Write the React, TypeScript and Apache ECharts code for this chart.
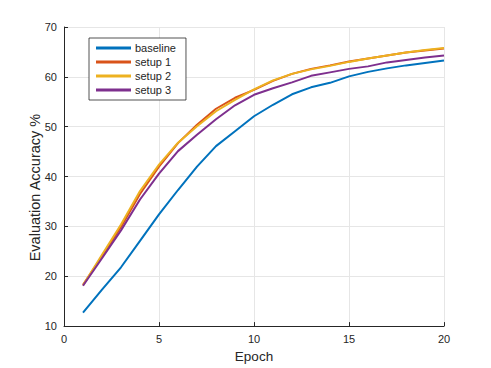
import React, { useEffect, useRef } from "react";
import * as echarts from "echarts";

const epochs = [1, 2, 3, 4, 5, 6, 7, 8, 9, 10, 11, 12, 13, 14, 15, 16, 17, 18, 19, 20];
const baseline = [12.7, 17.3, 21.8, 27.1, 32.4, 37.3, 42.0, 46.1, 49.1, 52.1, 54.4, 56.5, 57.9, 58.8, 60.1, 61.0, 61.7, 62.3, 62.8, 63.3];
const setup1 = [18.3, 24.0, 29.9, 36.5, 42.0, 46.7, 50.4, 53.6, 55.8, 57.4, 59.2, 60.6, 61.6, 62.3, 63.1, 63.7, 64.3, 64.9, 65.3, 65.7];
const setup2 = [18.2, 24.3, 30.4, 37.1, 42.4, 46.8, 50.1, 53.1, 55.4, 57.5, 59.3, 60.6, 61.5, 62.2, 63.0, 63.7, 64.3, 64.9, 65.4, 65.8];
const setup3 = [18.1, 23.6, 29.2, 35.4, 40.6, 45.1, 48.4, 51.5, 54.3, 56.4, 57.7, 58.9, 60.2, 60.9, 61.6, 62.1, 62.9, 63.4, 63.9, 64.3];
const seriesNames = ["baseline", "setup 1", "setup 2", "setup 3"];
const colors = ["#0072BD", "#D95319", "#EDB120", "#7E2F8E"];

export default function App() {
  const ref = useRef<HTMLDivElement>(null);
  useEffect(() => {
    if (!ref.current) return;
    const chart = echarts.init(ref.current, null, { renderer: "svg" });
    const data = [baseline, setup1, setup2, setup3];
    const font = "Liberation Sans, Arial, Helvetica, sans-serif";
    chart.setOption({
      animation: false,
      backgroundColor: "#ffffff",
      textStyle: { fontFamily: font },
      grid: { left: 64, right: 47, top: 27, bottom: 41, containLabel: false },
      legend: {
        left: 89,
        top: 38,
        orient: "vertical",
        data: seriesNames.map((n, i) => ({ name: n, icon: "rect", itemStyle: { color: colors[i] } })),
        itemWidth: 35,
        itemHeight: 3,
        itemGap: 0,
        padding: [3, 10, 3, 7],
        borderColor: "#262626",
        borderWidth: 0.8,
        backgroundColor: "#ffffff",
        textStyle: { fontSize: 11, color: "#262626", lineHeight: 14, fontFamily: font, padding: [0, 0, 0, -1] },
      },
      xAxis: {
        type: "value",
        min: 0,
        max: 20,
        interval: 5,
        name: "Epoch",
        nameLocation: "middle",
        nameGap: 21,
        nameTextStyle: { fontSize: 13.5, color: "#262626", fontFamily: font },
        axisLine: { show: true, lineStyle: { color: "#262626", width: 1 } },
        axisTick: { show: true, inside: true, length: 4, lineStyle: { color: "#262626" } },
        axisLabel: { fontSize: 11, color: "#262626", margin: 7, fontFamily: font },
        splitLine: { show: true, lineStyle: { color: "#e6e6e6", width: 1 } },
      },
      yAxis: {
        type: "value",
        min: 10,
        max: 70,
        interval: 10,
        name: "Evaluation Accuracy %",
        nameLocation: "middle",
        nameGap: 22,
        nameMoveOverlap: false,
        nameTextStyle: { fontSize: 14.5, color: "#262626", fontFamily: font, padding: [0, 22, 0, 0] },
        axisLine: { show: true, lineStyle: { color: "#262626", width: 1 } },
        axisTick: { show: true, inside: true, length: 4, lineStyle: { color: "#262626" } },
        axisLabel: { fontSize: 11, color: "#262626", margin: 7, fontFamily: font },
        splitLine: { show: true, lineStyle: { color: "#e6e6e6", width: 1 } },
      },
      series: seriesNames.map((n, i) => ({
        name: n,
        type: "line",
        data: epochs.map((e, j) => [e, data[i][j]]),
        showSymbol: false,
        symbol: "none",
        lineStyle: { color: colors[i], width: 2 },
        itemStyle: { color: colors[i] },
      })),
    });
    return () => chart.dispose();
  }, []);
  return <div ref={ref} style={{ width: 491, height: 368, position: "absolute", left: 0, top: 0 }} />;
}
